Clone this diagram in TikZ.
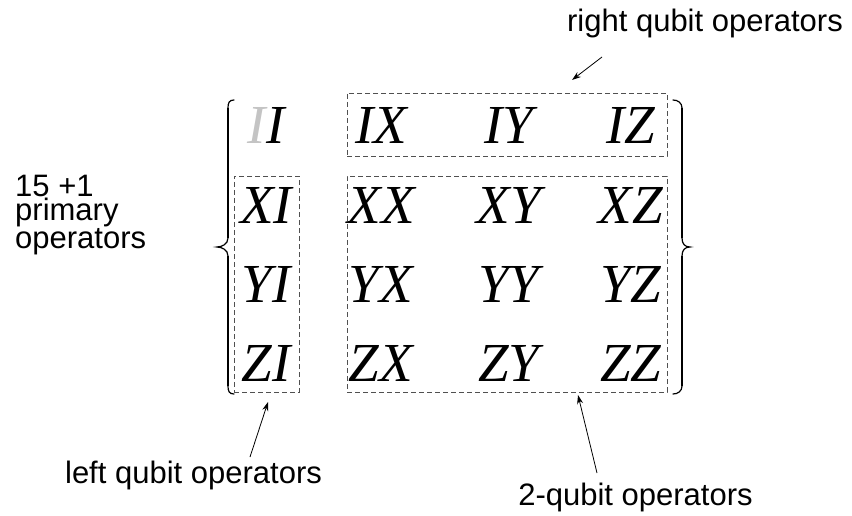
\documentclass[tikz,border=0pt]{standalone}
\usepackage{fontspec}
\setmainfont{Liberation Serif}
\setsansfont{Liberation Sans}
\definecolor{idgray}{HTML}{C4C4C4}
\definecolor{dashgray}{HTML}{505050}
\usetikzlibrary{arrows.meta,positioning}

\begin{document}
\begin{tikzpicture}[x=1pt,y=-1pt,
 op/.style={inner sep=0pt,font=\fontsize{55}{60}\selectfont\itshape},
 lbl/.style={inner sep=0pt,font=\fontsize{31}{22.5}\selectfont\sffamily},
 grp/.style={draw=dashgray,dash pattern=on 5pt off 3pt,line width=0.9pt,inner sep=0pt},
 brace/.style={line width=1.2pt,line cap=round},
 bar/.style={line width=2.6pt},
 arr/.style={-{Stealth[length=9pt,width=6pt]},line width=0.8pt}]
\useasboundingbox (0,0) rectangle (852,516);
\node[op] (II) at (266,125) {\textcolor{idgray}{I}I};
\foreach \r/\y in {X/205,Y/284,Z/363}
  \node[op] (\r I) at (266,\y) {\r I};
\foreach \r/\y in {I/125,X/205,Y/284,Z/363}
  \foreach \c/\x in {X/381,Y/509,Z/631}
    \node[op] (\r\c) at (\x,\y) {\r\c};
\node[grp,minimum width=320pt,minimum height=63pt] (rightgrp) at (507,124.5) {};
\node[grp,minimum width=65pt,minimum height=216pt] (leftgrp) at (266.5,284) {};
\node[grp,minimum width=320pt,minimum height=216pt] (twogrp) at (507,284) {};
\draw[brace] (234,100) .. controls (229,100) and (228,103) .. (228,108) -- (228,238)
  .. controls (228,244) and (222,247) .. (217,247) .. controls (222,247) and (228,250) .. (228,256)
  -- (228,386) .. controls (228,391) and (229,394) .. (234,394);
\draw[bar] (228,108) -- (228,238) (228,256) -- (228,386);
\draw[brace] (673,100) .. controls (678,100) and (682,103) .. (682,108) -- (682,238)
  .. controls (682,244) and (685,247) .. (690,247) .. controls (685,247) and (682,250) .. (682,256)
  -- (682,386) .. controls (682,391) and (678,394) .. (673,394);
\draw[bar] (682,108) -- (682,238) (682,256) -- (682,386);
\node[lbl,anchor=base] (rightlbl) at (705,32) {right qubit operators};
\node[lbl,anchor=base] (leftlbl) at (193.5,483) {left qubit operators};
\node[lbl,anchor=base] (twolbl) at (635.5,505) {2-qubit operators};
\node[lbl,align=left,anchor=base west] (primlbl) at (15,248) {15 +1\\primary\\operators};
\coordinate (righttail) at (602,57);
\coordinate (righthead) at (572,80);
\coordinate (lefttail) at (250,457);
\coordinate (lefthead) at (268,402);
\coordinate (twotail) at (597,473);
\coordinate (twohead) at (578,395);
\foreach \a/\b in {righttail/righthead,lefttail/lefthead,twotail/twohead}
  \draw[arr] (\a) -- (\b);
\end{tikzpicture}
\end{document}
